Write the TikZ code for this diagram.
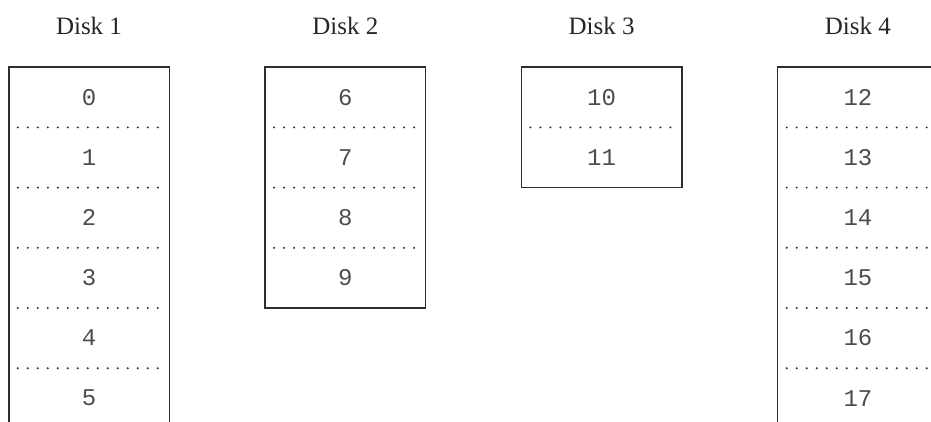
\documentclass[tikz,border=0pt]{standalone}
\usepackage{fontspec}
\setmainfont{Liberation Serif}
\setmonofont{Liberation Mono}
\usetikzlibrary{positioning}
\definecolor{ink}{HTML}{2E2E2E}
\tikzset{
  cell/.style={minimum width=160pt, minimum height=60.2pt, inner sep=0pt, text=black!70, font=\ttfamily\fontsize{24}{24}\selectfont},
  frame/.style={draw=ink, line width=1.4pt},
  sep/.style={draw=ink, line width=2.2pt, line cap=round, dash pattern=on 0pt off 10pt},
  title/.style={anchor=base, text=black!85, font=\fontsize{25}{25}\selectfont},
}

\begin{document}
\begin{tikzpicture}[x=1pt,y=-1pt]
  \useasboundingbox (0,0) rectangle (931,421);
  \foreach \d/\first/\n in {1/0/6,2/6/4,3/10/2,4/12/6}{
    \pgfmathsetmacro\left{9+256.3*(\d-1)}
    \pgfmathtruncatemacro\last{\first+\n-1}
    \node[title] (t\d) at (\left+80,34) {Disk \d};
    \foreach \k in {1,...,\n}{
      \pgfmathtruncatemacro\num{\first+\k-1}
      \node[cell] (c\num) at (\left+80,67+60.2*\k-30.1) {\num};
    }
    \foreach \k in {2,...,\n}{
      \pgfmathtruncatemacro\num{\first+\k-2}
      \draw[sep] ([xshift=9pt]c\num.south west) -- ([xshift=-9pt]c\num.south east);
    }
    \draw[frame] (c\first.north west) rectangle (c\last.south east);
  }
\end{tikzpicture}
\end{document}
